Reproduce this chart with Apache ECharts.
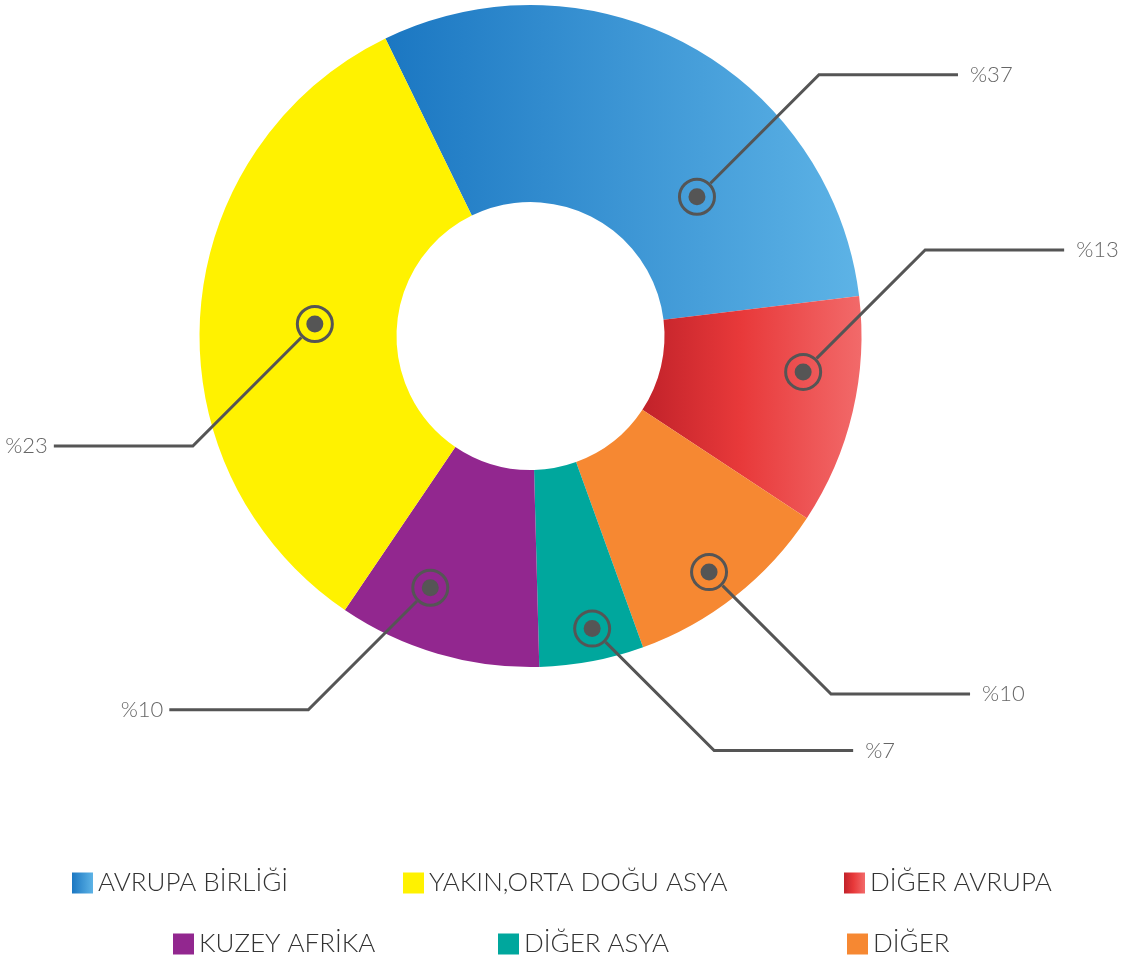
<!DOCTYPE html>
<html>
<head>
<meta charset="utf-8">
<script src="https://cdn.jsdelivr.net/npm/echarts@6/dist/echarts.min.js"></script>
<style>html,body{margin:0;padding:0;background:#fff}#c{width:1127px;height:958px}</style>
</head>
<body>
<div id="c"></div>
<script>
// ---- data ----
var categories = ['AVRUPA BİRLİĞİ', 'DİĞER AVRUPA', 'DİĞER', 'DİĞER ASYA', 'KUZEY AFRİKA', 'YAKIN,ORTA DOĞU ASYA'];
var sliceValues = [30.3, 11.2, 10.2, 5.1, 9.9, 33.3];      // slice sizes as drawn
var labelTexts = ['%37', '%13', '%10', '%7', '%10', '%23']; // printed percentages
var legendOrder = ['AVRUPA BİRLİĞİ', 'YAKIN,ORTA DOĞU ASYA', 'DİĞER AVRUPA', 'KUZEY AFRİKA', 'DİĞER ASYA', 'DİĞER'];

// ---- layout / style (not data) ----
var markerRadius = [217, 275, 296, 299, 271, 216];        // polar radius of callout markers
var markerAngle = [50.1, 97.5, 142.9, 168.1, 201.7, 273.2]; // clockwise from top
var dirX = [1, 1, 1, 1, -1, -1];
var dirY = [-1, -1, 1, 1, 1, 1];
var legendPos = [[72, 870], [403, 870], [844, 870], [173, 931], [498, 931], [847, 931]];

function lg(stops) {
  return new echarts.graphic.LinearGradient(0, 0, 1, 0, stops.map(function (s) {
    return {offset: s[0], color: s[1]};
  }));
}
var colors = [
  lg([[0, '#1b77c2'], [1, '#5db3e6']]),
  lg([[0, '#c1222a'], [0.45, '#e8393a'], [1, '#f26a6a']]),
  '#f68832',
  '#00a79d',
  '#92278f',
  '#fff200'
];

var FONT = 'Lato';
var center = [530.5, 336];

var legends = legendOrder.map(function (name, i) {
  return {
    data: [name],
    left: legendPos[i][0],
    top: legendPos[i][1],
    padding: 0,
    itemGap: 0,
    itemWidth: 21,
    itemHeight: 21,
    icon: 'rect',
    selectedMode: false,
    textStyle: {fontFamily: FONT, fontWeight: 300, fontSize: 26, color: '#333'}
  };
});

var option = {
  animation: false,
  legend: legends,
  polar: {center: center, radius: 331},
  angleAxis: {type: 'value', min: 0, max: 360, startAngle: 90, clockwise: true, show: false},
  radiusAxis: {type: 'value', min: 0, max: 331, show: false},
  series: [
    {
      type: 'pie',
      center: center,
      radius: [134, 331],
      startAngle: 116,
      clockwise: true,
      label: {show: false},
      labelLine: {show: false},
      emphasis: {disabled: true},
      data: categories.map(function (c, i) {
        return {name: c, value: sliceValues[i], itemStyle: {color: colors[i]}};
      })
    },
    {
      type: 'custom',
      coordinateSystem: 'polar',
      z: 10,
      silent: true,
      data: markerRadius.map(function (r, i) { return [r, markerAngle[i]]; }),
      renderItem: function (params, api) {
        var i = params.dataIndex;
        var p = api.coord([api.value(0), api.value(1)]);
        var sx = dirX[i], sy = dirY[i];
        var d0 = 13.5, diag = 122, hor = 139;
        var ex = p[0] + sx * (diag + hor), ey = p[1] + sy * diag;
        return {
          type: 'group',
          children: [
            {type: 'polyline', shape: {points: [
              [p[0] + sx * d0, p[1] + sy * d0],
              [p[0] + sx * diag, p[1] + sy * diag],
              [ex, ey]
            ]}, style: {stroke: '#555', lineWidth: 3, fill: null}},
            {type: 'circle', shape: {cx: p[0], cy: p[1], r: 17.5}, style: {fill: null, stroke: '#555', lineWidth: 3}},
            {type: 'circle', shape: {cx: p[0], cy: p[1], r: 8.5}, style: {fill: '#555'}},
            {type: 'text', style: {
              text: labelTexts[i],
              x: ex + sx * (sx > 0 ? 12 : 6),
              y: ey,
              align: sx > 0 ? 'left' : 'right',
              verticalAlign: 'middle',
              fontFamily: FONT, fontWeight: 300, fontSize: 22,
              fill: '#666'
            }}
          ]
        };
      }
    }
  ]
};

var chart = echarts.init(document.getElementById('c'));
chart.setOption(option);
</script>
</body>
</html>
